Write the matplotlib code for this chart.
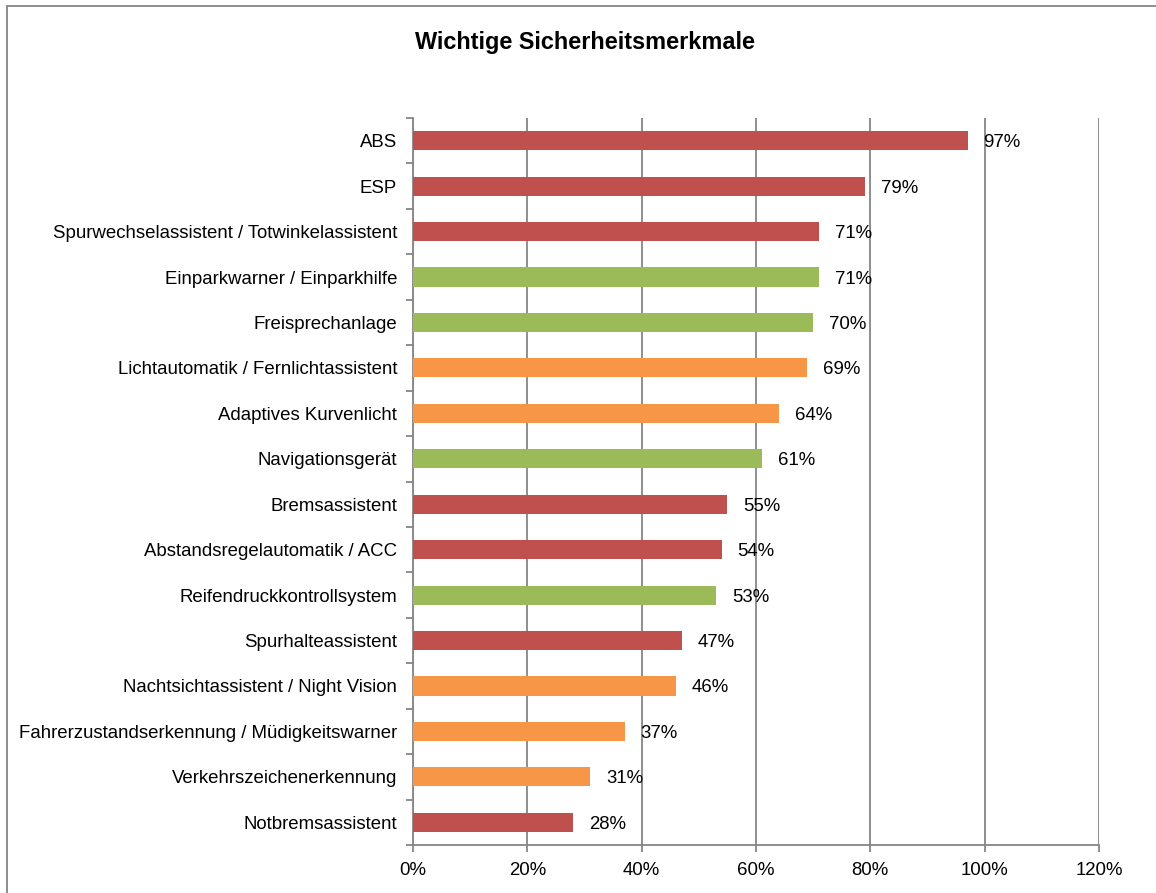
import matplotlib
matplotlib.use("Agg")
import matplotlib.pyplot as plt
from matplotlib.patches import Rectangle
from matplotlib.ticker import FixedLocator

plt.rcParams['font.family'] = ['Liberation Sans', 'DejaVu Sans']

categories = [
    "ABS", "ESP", "Spurwechselassistent / Totwinkelassistent",
    "Einparkwarner / Einparkhilfe", "Freisprechanlage",
    "Lichtautomatik / Fernlichtassistent", "Adaptives Kurvenlicht",
    "Navigationsgerät", "Bremsassistent", "Abstandsregelautomatik / ACC",
    "Reifendruckkontrollsystem", "Spurhalteassistent",
    "Nachtsichtassistent / Night Vision",
    "Fahrerzustandserkennung / Müdigkeitswarner",
    "Verkehrszeichenerkennung", "Notbremsassistent",
]
values = [97, 79, 71, 71, 70, 69, 64, 61, 55, 54, 53, 47, 46, 37, 31, 28]
groups = ["r", "r", "r", "g", "g", "o", "o", "g", "r", "r", "g", "r", "o", "o", "o", "r"]
group_colors = {"r": "#C0504D", "g": "#9BBB59", "o": "#F79646"}
xticks = [0, 20, 40, 60, 80, 100, 120]
xtick_labels = ["0%", "20%", "40%", "60%", "80%", "100%", "120%"]
title = "Wichtige Sicherheitsmerkmale"

FS = 13.4
W, H = 1156, 893
fig = plt.figure(figsize=(W / 100, H / 100), dpi=100)
ax = fig.add_axes([413 / W, 1 - 845 / H, (1099 - 413) / W, (845 - 118) / H])

n = len(categories)
ypos = list(range(n))
ax.barh(ypos, values, height=0.42, color=[group_colors[g] for g in groups], zorder=3)
ax.set_ylim(n - 0.5, -0.5)
ax.set_xlim(0, 120)

for y, v in zip(ypos, values):
    ax.annotate(f"{v}%", xy=(v, y), xytext=(16, 0), textcoords="offset pixels",
                va="center_baseline", ha="left", fontsize=FS, color="black", zorder=4)

ax.set_yticks(ypos)
ax.set_yticklabels(categories, fontsize=FS)
ax.yaxis.set_minor_locator(FixedLocator([i - 0.5 for i in range(n + 1)]))
ax.tick_params(axis="y", which="major", length=0, pad=11.5)
ax.tick_params(axis="y", which="minor", length=5, width=1.3, color="#868686")

ax.set_xticks(xticks)
ax.set_xticklabels(xtick_labels, fontsize=FS)
ax.tick_params(axis="x", length=5, width=1.3, color="#868686", pad=7)

ax.grid(axis="x", color="#868686", linewidth=1.3, zorder=0)
for s in ["top", "right"]:
    ax.spines[s].set_visible(False)
for s in ["left", "bottom"]:
    ax.spines[s].set_color("#868686")
    ax.spines[s].set_linewidth(1.3)

fig.text(585 / W, 1 - 42 / H, title, ha="center", va="center",
         fontsize=16.9, fontweight="bold")

fig.patches.append(Rectangle((7 / W, -0.1), 1.2, 1 - 6 / H + 0.1,
                             transform=fig.transFigure, fill=False,
                             edgecolor="#868686", linewidth=1.3))

fig.savefig("out.png", dpi=100)
